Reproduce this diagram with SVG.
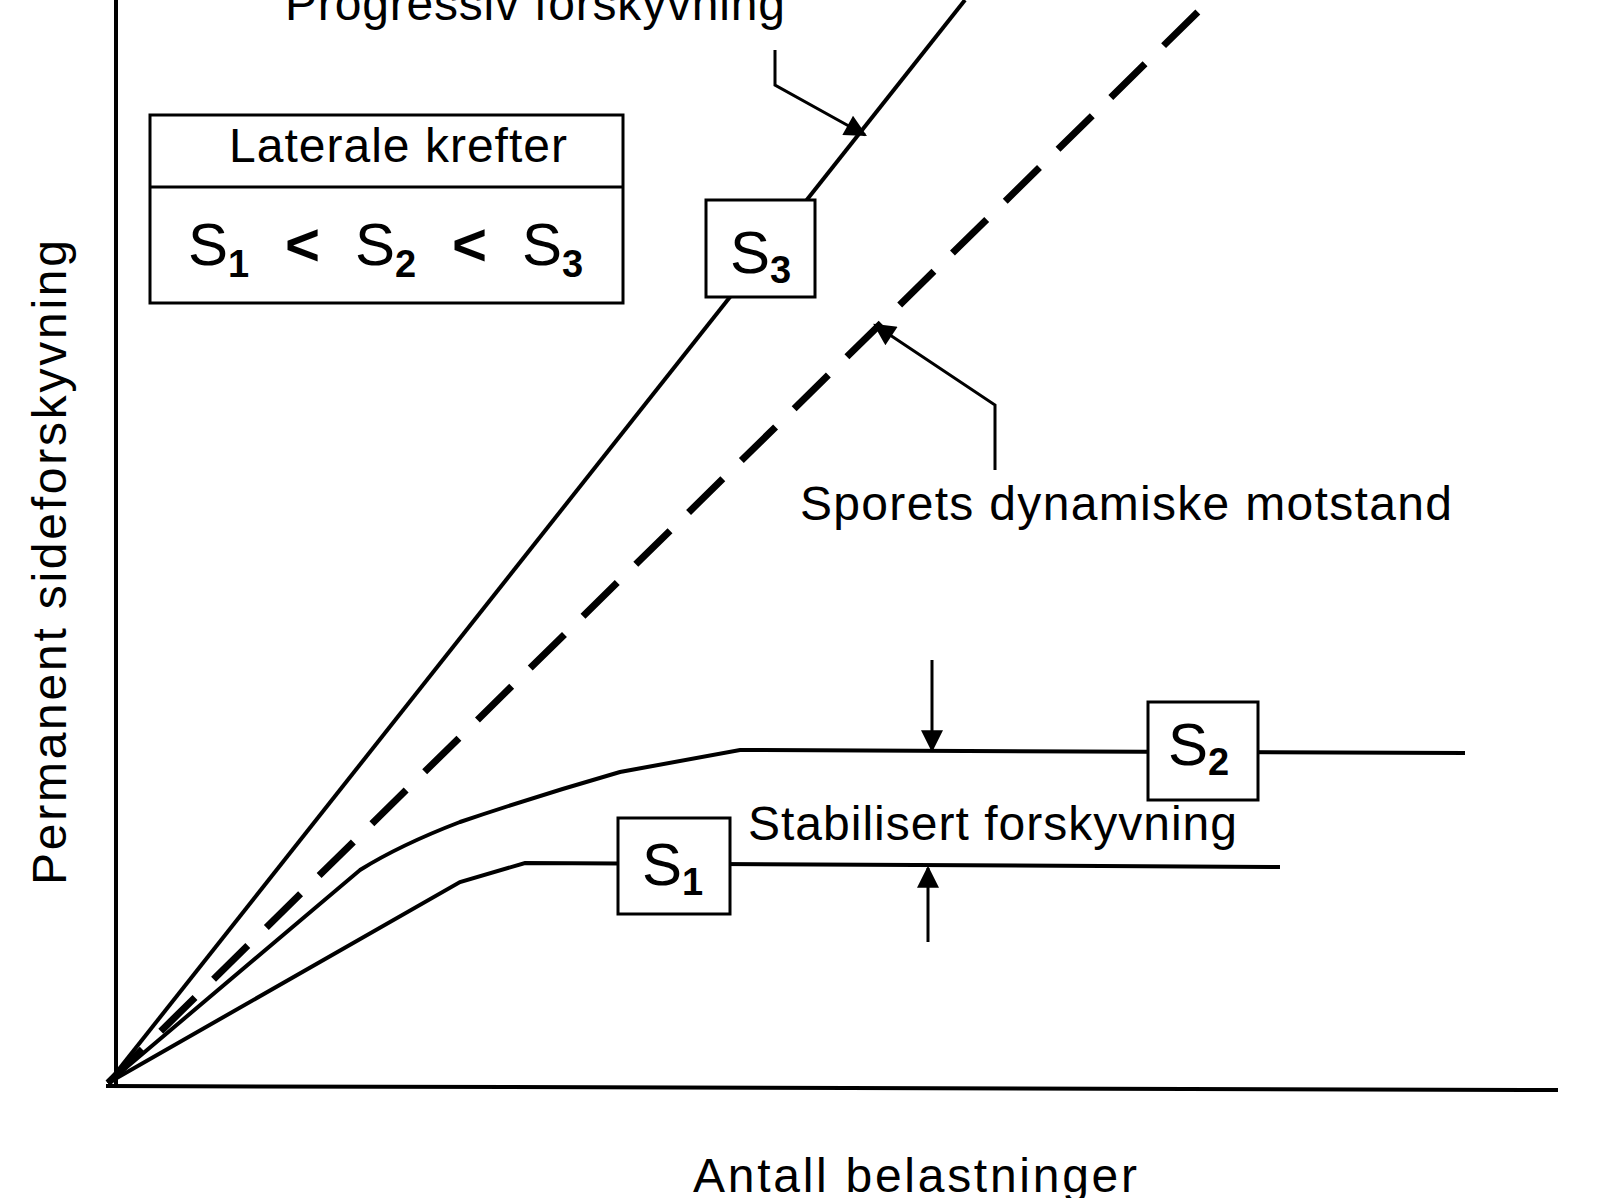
<svg xmlns="http://www.w3.org/2000/svg" width="1600" height="1198" viewBox="0 0 1600 1198">
<defs><marker id="ahb" viewBox="0 0 10 10" refX="9" refY="5" markerWidth="30" markerHeight="22" markerUnits="userSpaceOnUse" orient="auto"><path d="M0,0L10,5L0,10z" fill="#000"/></marker></defs>
<style>text{font-family:"Liberation Sans",Arial,sans-serif;fill:#000}.l{fill:none;stroke:#000;stroke-width:4}.a{fill:none;stroke:#000;stroke-width:3}.d{fill:none;stroke:#000;stroke-width:7;stroke-dasharray:48,26}.b{fill:#fff;stroke:#000;stroke-width:3}.t{font-size:48px}.s{font-size:60px}.sub{font-size:38px;font-weight:bold}</style>
<rect width="1600" height="1198" fill="#fff"/>
<g id="connectors">
<path class="l" d="M116,0V1086M106,1086L1558,1090"/>
<path class="l" d="M108,1083L965,0"/>
<path class="d" d="M108,1083L1210,0"/>
<path class="l" d="M108,1083L360,870Q400,845 460,822Q540,795 620,772L740,750L1465,753"/>
<path class="l" d="M108,1083L460,882L525,863L1280,867"/>
<path class="a" d="M775,50V85L865,135" marker-end="url(#ahb)"/>
<path class="a" d="M995,470V405L875,325" marker-end="url(#ahb)"/>
<path class="a" d="M932,660V750" marker-end="url(#ahb)"/>
<path class="a" d="M928,942V868" marker-end="url(#ahb)"/>
</g>
<g id="legend"><rect class="b" x="150" y="115" width="473" height="188"/><line x1="150" y1="187" x2="623" y2="187" stroke="#000" stroke-width="3"/>
<text class="t" x="398" y="162" text-anchor="middle" textLength="338">Laterale krefter</text>
<text class="s" x="188" y="265">S<tspan class="sub" dy="12">1</tspan><tspan dy="-12" x="285" font-weight="bold">&lt;</tspan><tspan x="355">S</tspan><tspan class="sub" dy="12">2</tspan><tspan dy="-12" x="452" font-weight="bold">&lt;</tspan><tspan x="522">S</tspan><tspan class="sub" dy="12">3</tspan></text></g>
<g id="s3"><rect class="b" x="706" y="200" width="109" height="97"/><text class="s" x="730" y="273">S<tspan class="sub" dy="10">3</tspan></text></g>
<g id="s2"><rect class="b" x="1148" y="702" width="110" height="98"/><text class="s" x="1168" y="765">S<tspan class="sub" dy="10">2</tspan></text></g>
<g id="s1"><rect class="b" x="618" y="818" width="112" height="96"/><text class="s" x="642" y="885">S<tspan class="sub" dy="10">1</tspan></text></g>
<g id="labels">
<text class="t" x="285" y="20" textLength="500">Progressiv forskyvning</text>
<text class="t" x="800" y="520" textLength="652">Sporets dynamiske motstand</text>
<text class="t" x="748" y="840" textLength="489">Stabilisert forskyvning</text>
<text class="t" x="693" y="1192" textLength="444">Antall belastninger</text>
<text class="t" transform="translate(66,885) rotate(-90)" textLength="645">Permanent sideforskyvning</text>
</g>
</svg>
